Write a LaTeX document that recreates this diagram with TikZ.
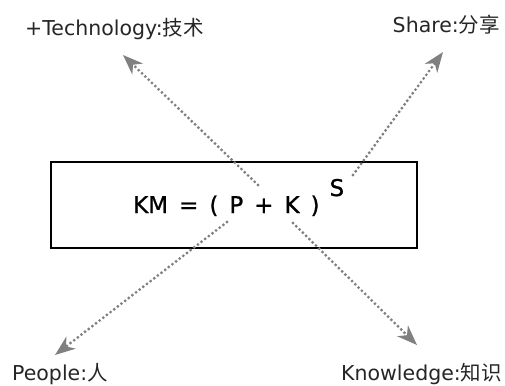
\documentclass[tikz,border=0pt]{standalone}
\usepackage{fontspec}
\setmainfont{DejaVu Sans}
\newfontfamily\cjk{Noto Sans CJK SC}
\newfontfamily\kmfont[FakeBold=1]{DejaVu Sans}
\usetikzlibrary{arrows.meta}
\begin{document}
\begin{tikzpicture}[x=1pt, y=-1pt, every node/.style={inner sep=0pt, text=black!85, font=\fontsize{20.5}{24}\selectfont},
    arr/.style={draw=black!50, line width=3.2pt, line cap=round, dash pattern=on 0pt off 4.6pt,
        -{Stealth[length=20pt, width=15pt, inset=6pt, fill=black!50]}}]
    \useasboundingbox (0,0) rectangle (505,385);
    \node[draw=black, line width=2.6pt, minimum width=366pt, minimum height=86pt] (box) at (234,205) {};
    \node[anchor=base west, font=\kmfont\fontsize{23}{26}\selectfont, text=black] (km) at (133,213)
        {{\spaceskip=11pt KM = ( P + K )}\hspace{10pt}\raisebox{17pt}{S}};
    % labels
    \node[anchor=base west] (tech) at (25,36) {+Technology:{\cjk 技术}};
    \node[anchor=base east] (share) at (500,33) {Share:{\cjk 分享}};
    \node[anchor=base west] (people) at (12,380) {People:{\cjk 人}};
    \node[anchor=base east] (know) at (502,380) {Knowledge:{\cjk 知识}};
    % arrows
    \coordinate (t0) at (258,185); \coordinate (t1) at (123,55);
    \coordinate (s0) at (353,175); \coordinate (s1) at (443,52);
    \coordinate (p0) at (227,222); \coordinate (p1) at (55,355);
    \coordinate (k0) at (293,223); \coordinate (k1) at (417,345);
    \foreach \i in {t,s,p,k} {
        \draw[arr] (\i0) -- (\i1);
    }
\end{tikzpicture}
\end{document}
